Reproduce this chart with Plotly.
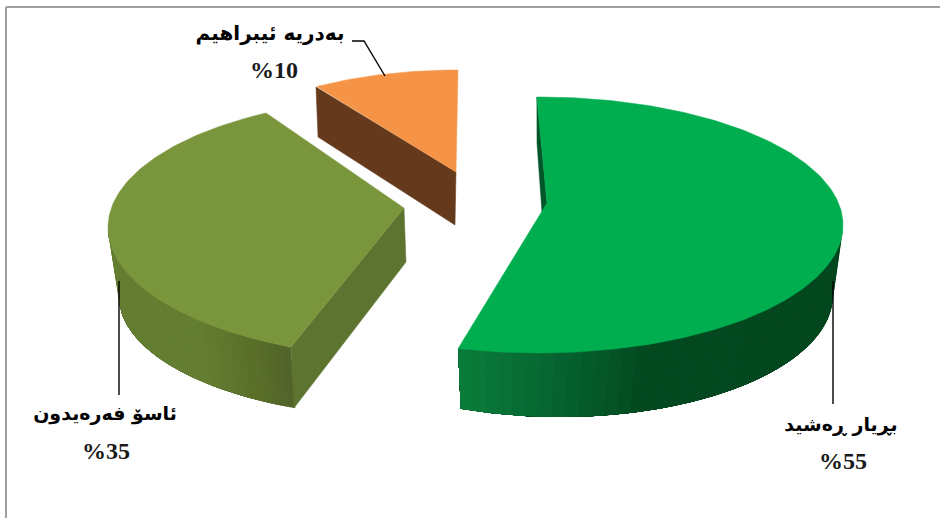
import math
import plotly.graph_objects as go

names = ["بڕیار ڕەشید", "ئاسۆ فەرەیدون", "بەدریە ئیبراهیم"]
values = [55, 35, 10]
pct_labels = ["%55", "%35", "%10"]

top_colors = ["#00ae50", "#7a963c", "#f59446"]
cut_colors = ["#02562a", "#5d7430", "#653a1c"]
# wall shading, (screen x, colour)
wall_stops = [
    [(459, "#0b7d3a"), (560, "#066330"), (650, "#03481f"), (843, "#03471e")],
    [(108, "#637d31"), (200, "#637d31"), (250, "#5a7029"), (291, "#51632a")],
    None,
]

# 3-D projection of each exploded slice (pixel space of the 940x518 page)
geom = [
    dict(cx=539, cy=225, rx=304, ry=128, bcx=560, bcy=295, brx=273, bry=122, bk=1.056,
         off=-0.4, warp=0.989, apex=(547, 203), wall=(90, None),
         cut=[("s"), (537, 143), (542, 213), (547, 203)]),
    dict(cx=413, cy=227.4, rx=305, ry=130.6, bcx=413, bcy=296.5, brx=294, bry=122, bk=1.0,
         off=5.6, warp=1.0127, apex=(404, 208), wall=(None, 270),
         cut=[(404, 208), (406, 262), (294, 408), (291, 347)]),
    dict(cx=458, cy=157, rx=240, ry=87, bcx=None, bcy=None, brx=None, bry=None, bk=1.0,
         off=0, warp=1.0, apex=(456, 172), wall=None,
         cut=[(316, 87), (456, 172), (455, 225), (318, 137)]),
]
label_pos = [(841, 426), (105, 415), (270, 35)]
label_sizes = [19, 19, 20]
pct_pos = [(843, 463), (106, 453), (274, 72)]
leaders = [
    [(833, 281), (833, 404)],
    [(119, 281), (119, 395)],
    [(352, 41), (364, 41), (385, 76)],
]


def hex2rgb(h):
    return tuple(int(h[i:i + 2], 16) for i in (1, 3, 5))


def shade(stops, x):
    if x <= stops[0][0]:
        return stops[0][1]
    for (x0, c0), (x1, c1) in zip(stops, stops[1:]):
        if x <= x1:
            t = (x - x0) / (x1 - x0)
            a, b = hex2rgb(c0), hex2rgb(c1)
            return "#%02x%02x%02x" % tuple(round(p + (q - p) * t) for p, q in zip(a, b))
    return stops[-1][1]


def rim(g, phi):
    r = math.radians(phi)
    return g["cx"] + g["rx"] * math.sin(r), g["cy"] - g["ry"] * math.cos(r)


def base(g, phi):
    r = math.radians(90 + (phi - 90) * g["bk"])
    return g["bcx"] + g["brx"] * math.sin(r), g["bcy"] - g["bry"] * math.cos(r)


fig = go.Figure()


def poly(points, color, lw=0.5):
    fig.add_trace(go.Scatter(
        x=[p[0] for p in points], y=[p[1] for p in points],
        mode="lines", fill="toself", fillcolor=color,
        line=dict(color=color, width=lw), hoverinfo="skip", showlegend=False))


total = sum(values)
start = 0.0
spans = []
for v in values:
    spans.append((start, start + 360.0 * v / total))
    start = spans[-1][1]

for g, (a0, a1), top, cut, stops in zip(geom, spans, top_colors, cut_colors, wall_stops):
    span = (a1 - a0) * g["warp"]
    phi0 = a0 + g["off"]
    phi1 = phi0 + span
    # curved wall: each band runs to the far end so that no seams show
    if g["wall"] is not None:
        lo = phi0 if g["wall"][0] is None else g["wall"][0]
        hi = phi1 if g["wall"][1] is None else g["wall"][1]
        n = 40
        fine = 80
        for i in range(n):
            u0 = lo + (hi - lo) * i / n
            mid = rim(g, u0 + (hi - lo) / (2 * n))
            us = [u0 + (hi - u0) * k / fine for k in range(fine + 1)]
            pts = [rim(g, u) for u in us] + [base(g, u) for u in reversed(us)]
            poly(pts + [pts[0]], shade(stops, mid[0]), lw=0)
    # cut face
    pts = [rim(g, phi0) if p == "s" else p for p in g["cut"]]
    poly(pts + [pts[0]], cut)
    # top face
    steps = max(24, int(span))
    arc = [rim(g, phi0 + span * i / steps) for i in range(steps + 1)]
    poly([g["apex"]] + arc + [g["apex"]], top)

for seg in leaders:
    fig.add_trace(go.Scatter(
        x=[p[0] for p in seg], y=[p[1] for p in seg], mode="lines",
        line=dict(color="#000000", width=1.4), hoverinfo="skip", showlegend=False))

fig.add_trace(go.Scatter(
    x=[p[0] for p in label_pos], y=[p[1] for p in label_pos], mode="text", text=names,
    textposition="middle center",
    textfont=dict(family="DejaVu Sans", size=label_sizes, color="#000000", weight="bold"),
    hoverinfo="skip", showlegend=False))
fig.add_trace(go.Scatter(
    x=[p[0] for p in pct_pos], y=[p[1] for p in pct_pos], mode="text", text=pct_labels,
    textposition="middle center",
    textfont=dict(family="Liberation Serif", size=24, color="#1a1a1a", weight="bold"),
    hoverinfo="skip", showlegend=False))

fig.update_layout(
    width=940, height=518, margin=dict(l=0, r=0, t=0, b=0),
    paper_bgcolor="#ffffff", plot_bgcolor="#ffffff", showlegend=False,
    xaxis=dict(range=[0, 940], visible=False, fixedrange=True),
    yaxis=dict(range=[518, 0], visible=False, fixedrange=True),
    shapes=[
        dict(type="line", xref="x", yref="y", x0=6, x1=940, y0=7, y1=7,
             line=dict(color="#a0a0a0", width=2)),
        dict(type="line", xref="x", yref="y", x0=6, x1=6, y0=7, y1=518,
             line=dict(color="#a0a0a0", width=2)),
    ],
)
fig.write_html("out.html", config=dict(displayModeBar=False),
               post_script="document.body.style.margin='0';document.body.style.overflow='hidden';")
